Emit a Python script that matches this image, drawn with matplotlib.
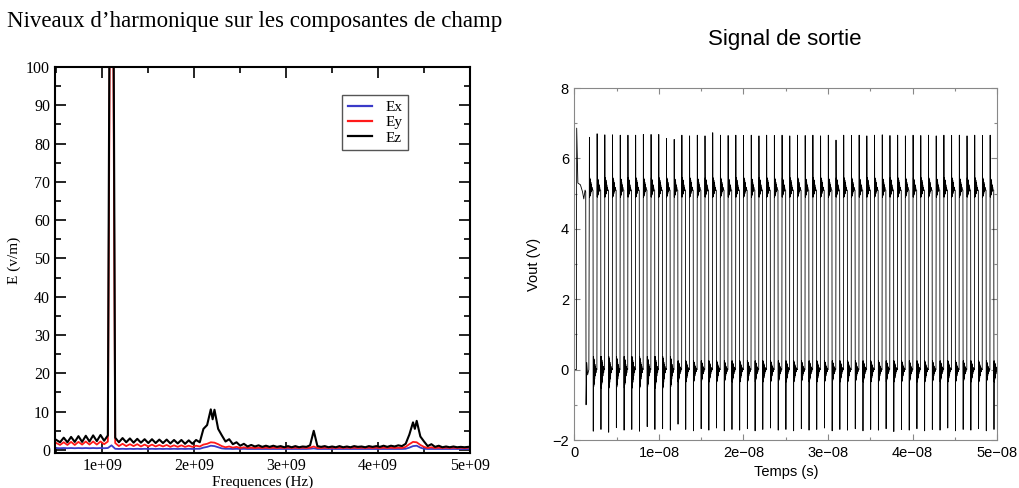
import numpy as np
import matplotlib
matplotlib.use("Agg")
import matplotlib.pyplot as plt
from matplotlib.ticker import MultipleLocator, FixedLocator

# ---------------- Left panel data (spectrum) ----------------
freq_start_ghz = 0.5
freq_step_ghz = 0.04
ex_vals = [0.5, 0.45, 0.5, 0.45, 0.5, 0.45, 0.5, 0.45, 0.5, 0.45,
           0.5, 0.45, 0.5, 0.45, 0.5, 1.2, 0.3, 0.25, 0.3, 0.25,
           0.3, 0.25, 0.3, 0.25, 0.3, 0.25, 0.3, 0.25, 0.3, 0.25,
           0.3, 0.25, 0.3, 0.25, 0.3, 0.25, 0.3, 0.25, 0.3, 0.3,
           0.6, 0.8, 1.1, 1.0, 0.7, 0.4, 0.3, 0.3, 0.25, 0.3,
           0.25, 0.3, 0.25, 0.25, 0.25, 0.25, 0.25, 0.25, 0.25, 0.25,
           0.25, 0.25, 0.25, 0.25, 0.25, 0.25, 0.25, 0.25, 0.25, 0.3,
           0.4, 0.25, 0.25, 0.25, 0.25, 0.25, 0.25, 0.25, 0.25, 0.25,
           0.25, 0.25, 0.25, 0.25, 0.25, 0.25, 0.25, 0.25, 0.25, 0.25,
           0.25, 0.25, 0.25, 0.25, 0.25, 0.3, 0.6, 1.0, 1.1, 0.6,
           0.3, 0.25, 0.25, 0.25, 0.25, 0.25, 0.25, 0.25, 0.25, 0.25,
           0.25, 0.25, 0.25]
ey_vals = [1.8, 1.3, 2.0, 1.3, 2.1, 1.3, 2.1, 1.4, 2.2, 1.4,
           2.2, 1.4, 2.2, 1.5, 2.2, 200.0, 1.8, 1.0, 1.6, 1.0,
           1.5, 1.0, 1.5, 0.9, 1.4, 0.9, 1.4, 0.9, 1.3, 0.9,
           1.3, 0.8, 1.2, 0.8, 1.2, 0.8, 1.1, 0.8, 1.1, 0.9,
           1.4, 1.6, 2.0, 1.9, 1.5, 1.0, 0.7, 0.9, 0.6, 0.8,
           0.5, 0.7, 0.5, 0.6, 0.5, 0.6, 0.5, 0.6, 0.5, 0.6,
           0.5, 0.6, 0.5, 0.6, 0.5, 0.6, 0.5, 0.6, 0.5, 0.6,
           0.9, 0.5, 0.5, 0.6, 0.5, 0.6, 0.5, 0.6, 0.5, 0.6,
           0.5, 0.6, 0.5, 0.6, 0.5, 0.6, 0.5, 0.6, 0.5, 0.6,
           0.5, 0.6, 0.5, 0.6, 0.5, 0.8, 1.5, 2.1, 2.0, 1.3,
           0.8, 0.5, 0.7, 0.5, 0.6, 0.5, 0.6, 0.5, 0.6, 0.5,
           0.6, 0.5, 0.6]
ez_vals = [2.6, 2.0, 3.2, 2.0, 3.4, 2.1, 3.6, 2.1, 3.7, 2.2,
           3.8, 2.3, 3.9, 2.4, 3.8, 250.0, 3.2, 2.0, 3.1, 2.0,
           3.0, 1.9, 2.9, 1.9, 2.8, 1.8, 2.8, 1.8, 2.7, 1.8,
           2.7, 1.7, 2.6, 1.7, 2.6, 1.6, 2.5, 1.6, 2.6, 2.0,
           5.5, 6.5, 10.6, 10.5, 5.5, 3.8, 2.2, 2.8, 1.5, 2.0,
           1.1, 1.6, 0.9, 1.3, 0.9, 1.2, 0.8, 1.1, 0.8, 1.1,
           0.8, 1.0, 0.7, 1.0, 0.7, 1.0, 0.7, 0.9, 0.8, 1.2,
           5.0, 1.0, 0.8, 1.0, 0.7, 0.9, 0.7, 1.0, 0.7, 0.9,
           0.7, 1.0, 0.8, 0.9, 0.7, 1.0, 0.8, 1.0, 0.8, 1.1,
           0.8, 1.1, 0.9, 1.2, 1.0, 1.6, 4.0, 7.2, 7.6, 3.5,
           2.2, 1.0, 1.5, 0.8, 1.1, 0.7, 0.9, 0.7, 0.9, 0.7,
           0.8, 0.7, 0.8]
# extra Ez samples between the twin peaks (GHz, value)
ez_extra_freq_ghz = [2.20, 4.40]
ez_extra_vals = [8.0, 5.5]

left_xticks = [1e9, 2e9, 3e9, 4e9, 5e9]
left_xticklabels = ["1e+09", "2e+09", "3e+09", "4e+09", "5e+09"]
left_yticks = [0, 10, 20, 30, 40, 50, 60, 70, 80, 90, 100]

# ---------------- Right panel data (output signal) ----------------
t_init_ns = [0.0, 0.22, 0.26, 0.40, 0.70, 0.95, 1.10, 1.25, 1.33, 1.37, 1.45, 1.55, 1.70]
v_init = [0.0, 0.0, 6.86, 5.30, 5.25, 5.05, 4.85, 5.10, 5.05, -1.0, 0.2, -0.15, 0.0]
first_rise_ns = 1.75
period_ns = 0.912
high_peaks = [6.60, 6.70, 6.67, 6.67, 6.66, 6.66, 6.66, 6.68, 6.68, 6.68,
              6.57, 6.54, 6.66, 6.64, 6.66, 6.64, 6.73, 6.66, 6.65, 6.66,
              6.65, 6.66, 6.64, 6.66, 6.65, 6.66, 6.64, 6.66, 6.65, 6.66,
              6.64, 6.66, 6.52, 6.66, 6.65, 6.66, 6.64, 6.66, 6.67, 6.65,
              6.66, 6.64, 6.66, 6.65, 6.66, 6.64, 6.66, 6.65, 6.66, 6.64,
              6.66, 6.65, 6.66]
low_troughs = [-1.75, -1.70, -1.78, -1.65, -1.72, -1.70, -1.75, -1.62, -1.70, -1.68,
               -1.72, -1.55, -1.70, -1.74, -1.68, -1.72, -1.66, -1.74, -1.70, -1.72,
               -1.68, -1.74, -1.70, -1.66, -1.72, -1.70, -1.74, -1.68, -1.72, -1.70,
               -1.66, -1.74, -1.70, -1.72, -1.68, -1.74, -1.70, -1.72, -1.68, -1.76,
               -1.70, -1.72, -1.68, -1.74, -1.70, -1.72, -1.66, -1.74, -1.70, -1.72,
               -1.68, -1.74, -1.70]
low_ring_scale = [1.5] * 11 + [1.0] * 42
# ringing shape after each edge: offsets from rising edge (ns) and levels (V)
rise_peak_dt = 0.015
high_ring_dt = [0.035, 0.05, 0.065, 0.08, 0.095, 0.11, 0.13, 0.15, 0.17, 0.19,
                0.22, 0.25, 0.28, 0.32, 0.37, 0.44]
high_ring_v = [4.90, 5.45, 4.92, 5.42, 4.95, 5.40, 4.98, 5.38, 5.00, 5.32,
               5.05, 5.25, 5.08, 5.18, 5.10, 5.10]
fall_trough_dt = 0.47
low_ring_dt = [0.485, 0.50, 0.515, 0.53, 0.545, 0.56, 0.58, 0.60, 0.62, 0.64,
               0.67, 0.70, 0.74, 0.79, 0.85, 0.90]
low_ring_v = [0.25, -0.35, 0.22, -0.32, 0.20, -0.28, 0.18, -0.24, 0.14, -0.18,
              0.10, -0.12, 0.06, -0.06, 0.02, 0.0]

right_xticks = [0, 1e-8, 2e-8, 3e-8, 4e-8, 5e-8]
right_xticklabels = ["0", "1e\u221208", "2e\u221208", "3e\u221208", "4e\u221208", "5e\u221208"]
right_yticks = [-2, 0, 2, 4, 6, 8]
right_yticklabels = ["\u22122", "0", "2", "4", "6", "8"]

# ---------------- Build arrays ----------------
n_f = len(ez_vals)
freq = (freq_start_ghz + freq_step_ghz * np.arange(n_f)) * 1e9
ez_f = np.concatenate([freq, np.array(ez_extra_freq_ghz) * 1e9])
ez_v = np.concatenate([np.array(ez_vals), np.array(ez_extra_vals)])
order = np.argsort(ez_f)
ez_f, ez_v = ez_f[order], ez_v[order]

t_pts = list(t_init_ns)
v_pts = list(v_init)
for i, (hp, lt, sc) in enumerate(zip(high_peaks, low_troughs, low_ring_scale)):
    t0 = first_rise_ns + i * period_ns
    t_pts.append(t0 + rise_peak_dt)
    v_pts.append(hp)
    for dt, v in zip(high_ring_dt, high_ring_v):
        t_pts.append(t0 + dt)
        v_pts.append(v)
    t_pts.append(t0 + fall_trough_dt)
    v_pts.append(lt)
    for dt, v in zip(low_ring_dt, low_ring_v):
        t_pts.append(t0 + dt)
        v_pts.append(v * sc)
t_sig = np.array(t_pts) * 1e-9
v_sig = np.array(v_pts)

# ---------------- Figure ----------------
fig = plt.figure(figsize=(10.2, 4.88), dpi=100)
serif = ["Liberation Serif", "DejaVu Serif"]
sans = ["Liberation Sans", "DejaVu Sans"]

axL = fig.add_axes([55 / 1020, 1 - 453 / 488, 415 / 1020, 386 / 488])
axL.plot(freq, ex_vals, color="#3a3ac8", lw=1.3, label="Ex")
axL.plot(freq, ey_vals, color="#ff1a1a", lw=1.3, label="Ey")
axL.plot(ez_f, ez_v, color="black", lw=1.5, label="Ez")
axL.set_xlim(0.485e9, 5.0e9)
axL.set_ylim(-0.8, 100)
axL.xaxis.set_major_locator(FixedLocator(left_xticks))
axL.set_xticklabels(left_xticklabels)
axL.xaxis.set_minor_locator(MultipleLocator(0.5e9))
axL.yaxis.set_major_locator(FixedLocator(left_yticks))
axL.set_yticklabels([str(v) for v in left_yticks])
axL.yaxis.set_minor_locator(MultipleLocator(5))
axL.tick_params(which="both", direction="in", top=True, right=True, width=1.2)
axL.tick_params(which="major", length=8, labelsize=11.5)
axL.tick_params(which="minor", length=4.5)
for lab in axL.get_xticklabels() + axL.get_yticklabels():
    lab.set_family(serif)
for s in axL.spines.values():
    s.set_linewidth(1.5)
axL.set_xlabel("Frequences (Hz)", family=serif, fontsize=11, labelpad=1)
axL.set_ylabel("E (v/m)", family=serif, fontsize=11, labelpad=4)
leg = axL.legend(loc="upper right", bbox_to_anchor=(0.851, 0.927), borderaxespad=0,
                 prop={"family": serif, "size": 11},
                 fancybox=False, edgecolor="#555555", framealpha=1, borderpad=0.35,
                 handlelength=1.6, labelspacing=0.1, handletextpad=0.9)
leg.get_frame().set_linewidth(1.0)
for h in leg.get_lines():
    h.set_linewidth(1.6)
fig.text(255 / 1020, 1 - 22 / 488, "Niveaux d\u2019harmonique sur les composantes de champ",
         family=serif, fontsize=16.5, ha="center", va="center")

axR = fig.add_axes([574.5 / 1020, 1 - 440 / 488, 422.5 / 1020, 352 / 488])
axR.plot(t_sig, v_sig, color="black", lw=0.6)
axR.set_xlim(0, 5e-8)
axR.set_ylim(-2, 8)
axR.xaxis.set_major_locator(FixedLocator(right_xticks))
axR.set_xticklabels(right_xticklabels)
axR.xaxis.set_minor_locator(MultipleLocator(0.5e-8))
axR.yaxis.set_major_locator(FixedLocator(right_yticks))
axR.set_yticklabels(right_yticklabels)
axR.yaxis.set_minor_locator(MultipleLocator(1))
axR.tick_params(which="both", direction="in", top=True, right=True, color="#888888", width=0.8)
axR.tick_params(which="major", length=4, labelsize=10.5, pad=4)
axR.tick_params(which="minor", length=2.5)
for lab in axR.get_xticklabels() + axR.get_yticklabels():
    lab.set_family(sans)
for s in axR.spines.values():
    s.set_linewidth(0.8)
    s.set_color("#888888")
axR.set_xlabel("Temps (s)", family=sans, fontsize=10.5, labelpad=4)
axR.set_ylabel("Vout (V)", family=sans, fontsize=10.5, labelpad=8)
fig.text(785 / 1020, 1 - 40 / 488, "Signal de sortie", family=sans, fontsize=16,
         ha="center", va="center")

fig.savefig("out.png", dpi=100)
